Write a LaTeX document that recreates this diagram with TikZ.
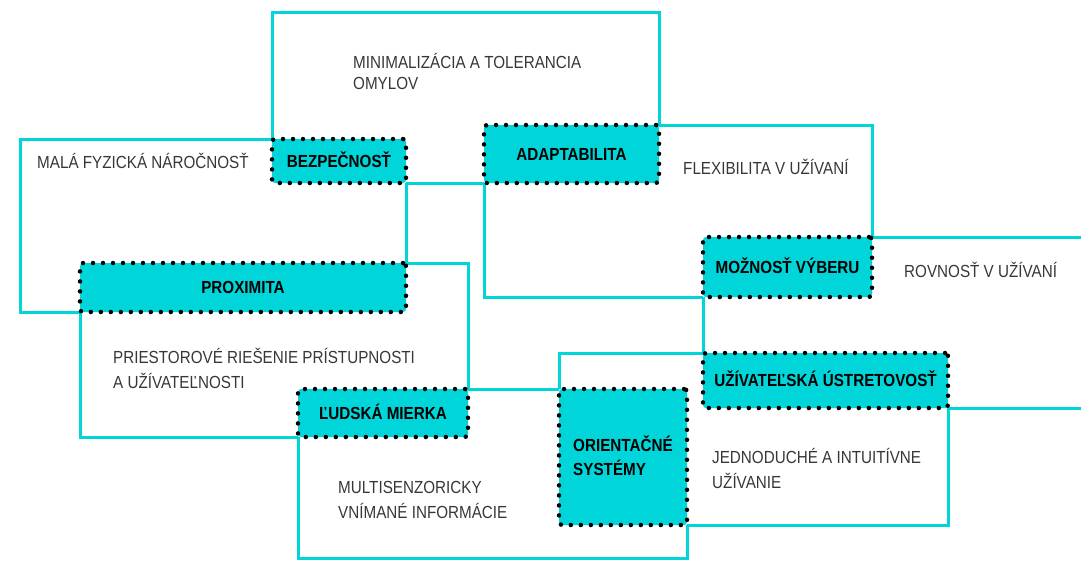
\documentclass[tikz,border=0pt]{standalone}
\usepackage{fontspec}
\setmainfont{Liberation Sans}[FakeStretch=0.87]
\usetikzlibrary{backgrounds}

\definecolor{tyrkys}{RGB}{0,214,218}
\definecolor{sedy}{RGB}{55,55,55}

\begin{document}
\begin{tikzpicture}[
  x=1pt,y=-1pt,
  krit/.style={draw=black,fill=tyrkys,line width=4.5pt,dash pattern=on 0pt off 10pt,
    line cap=round,rounded corners=3pt,inner sep=0pt,outer sep=0pt,align=center,
    font=\bfseries\fontsize{17.5}{24}\selectfont,text height=12.5pt,text depth=0pt},
  spoj/.style={draw=tyrkys,line width=3pt},
  popis/.style={anchor=base west,inner sep=0pt,align=left,text=sedy,
    font=\fontsize{17.5}{25}\selectfont}
]
\useasboundingbox (0,0) rectangle (1081,560);
% ---------- principles ----------
\node[krit,minimum width=134pt,minimum height=44pt] (bez) at (339,161) {BEZPEČNOSŤ};
\node[krit,minimum width=175pt,minimum height=58pt] (ada) at (571.5,154) {ADAPTABILITA};
\node[krit,minimum width=326pt,minimum height=49pt] (prox) at (243,287.5) {PROXIMITA};
\node[krit,minimum width=169pt,minimum height=60pt] (moz) at (787.5,267) {MOŽNOSŤ VÝBERU};
\node[krit,minimum width=170pt,minimum height=48pt] (lud) at (383,413) {ĽUDSKÁ MIERKA};
\node[krit,minimum width=245pt,minimum height=55pt] (uzi) at (825.5,380.5) {UŽÍVATEĽSKÁ ÚSTRETOVOSŤ};
\node[krit,minimum width=128pt,minimum height=136pt,align=left,text height=36.5pt] (ori) at (623,457) {ORIENTAČNÉ\\SYSTÉMY};
% free corners
\coordinate (omyl) at (450,12);
\coordinate (malafyz) at (20,220);
\coordinate (multi) at (500,558);
\coordinate (rovtop) at (1081,237);
\coordinate (rovbot) at (1081,408);
% ---------- frames ----------
\begin{scope}[on background layer]
\draw[spoj] (bez.north west) |- (omyl) -| (ada.north east);
\draw[spoj] (bez.south east) -- (ada.south west);
\draw[spoj] (bez.north west) -| (malafyz) |- (prox.south west);
\draw[spoj] (bez.south east) -- (prox.north east);
\draw[spoj] (prox.north east) -| (lud.north east);
\draw[spoj] (prox.south west) |- (lud.south west);
\draw[spoj] (lud.north east) -- (ori.north west);
\draw[spoj] (lud.south west) |- (multi) -| (ori.south east);
\draw[spoj] (ori.north west) |- (uzi.north west);
\draw[spoj] (uzi.south east) |- (ori.south east);
\draw[spoj] (moz.north east) -- (rovtop);
\draw[spoj] (moz.south west) -- (uzi.north west);
\draw[spoj] (uzi.south east) -- (rovbot);
\draw[spoj] (ada.north east) -| (moz.north east);
\draw[spoj] (ada.south west) |- (moz.south west);
\end{scope}
% ---------- descriptions ----------
\node[popis,font=\fontsize{17.5}{21}\selectfont] (tomyl) at (353,89) {MINIMALIZÁCIA A TOLERANCIA\\OMYLOV};
\node[popis] (tmala) at (37,168) {MALÁ FYZICKÁ NÁROČNOSŤ};
\node[popis] (tflex) at (683,174) {FLEXIBILITA V UŽÍVANÍ};
\node[popis] (trov) at (904,277) {ROVNOSŤ V UŽÍVANÍ};
\node[popis] (tpries) at (113,388) {PRIESTOROVÉ RIEŠENIE PRÍSTUPNOSTI\\A UŽÍVATEĽNOSTI};
\node[popis] (tmulti) at (338,518) {MULTISENZORICKY\\VNÍMANÉ INFORMÁCIE};
\node[popis] (tjedn) at (712,488) {JEDNODUCHÉ A INTUITÍVNE\\UŽÍVANIE};
\end{tikzpicture}
\end{document}
